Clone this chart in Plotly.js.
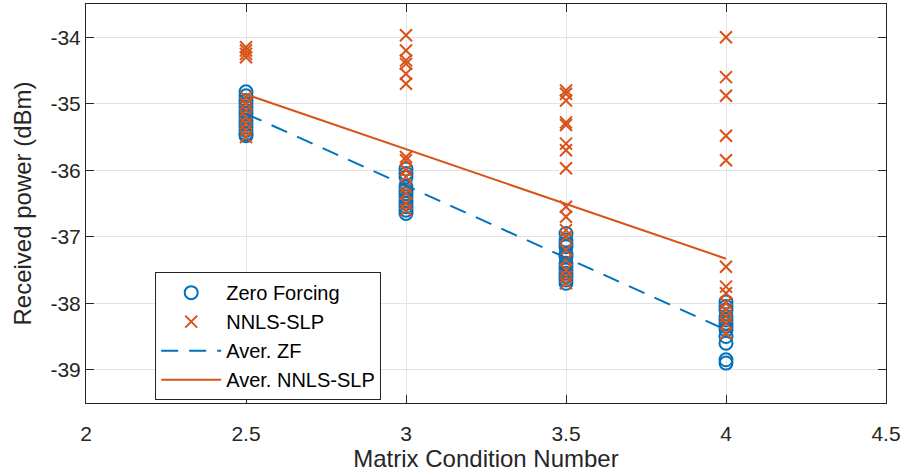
<!DOCTYPE html>
<html><head><meta charset="utf-8">
<script src="https://cdn.plot.ly/plotly-3.0.1.min.js"></script>
<style>body{margin:0;background:#fff}#c{width:902px;height:474px}</style>
</head><body><div id="c"></div>
<script>
const zfX25 = [-34.82,-34.88,-34.95,-35.0,-35.05,-35.1,-35.15,-35.2,-35.25,-35.3,-35.35,-35.4,-35.45,-35.48];
const zfX30 = [-35.98,-36.05,-36.1,-36.25,-36.3,-36.35,-36.4,-36.45,-36.5,-36.55,-36.6,-36.65];
const zfX35 = [-36.95,-37.05,-37.1,-37.15,-37.25,-37.3,-37.4,-37.45,-37.5,-37.55,-37.6,-37.65,-37.7];
const zfX40 = [-37.98,-38.05,-38.1,-38.2,-38.25,-38.3,-38.35,-38.4,-38.5,-38.6,-38.85,-38.9];
const slpX25 = [-34.15,-34.2,-34.25,-34.3,-34.9,-35.0,-35.1,-35.2,-35.3,-35.4,-35.5];
const slpX30 = [-33.97,-34.2,-34.35,-34.4,-34.55,-34.7,-35.8,-35.85,-36.0,-36.1,-36.25,-36.35,-36.5,-36.6];
const slpX35 = [-34.8,-34.85,-34.95,-35.28,-35.32,-35.6,-35.7,-35.97,-36.55,-36.7,-36.9,-37.0,-37.2,-37.35,-37.5,-37.6,-37.7];
const slpX40 = [-34.0,-34.6,-34.88,-35.48,-35.85,-37.45,-37.75,-37.85,-38.0,-38.1,-38.2,-38.3,-38.45];
const condNums = [2.5, 3, 3.5, 4];
const avgZF = [-35.15, -36.23, -37.32, -38.4];
const avgSLP = [-34.86, -35.68, -36.5, -37.33];
const xTicks = [2, 2.5, 3, 3.5, 4, 4.5];
const yTicks = [-39, -38, -37, -36, -35, -34];

const zfGroups = [zfX25, zfX30, zfX35, zfX40];
const slpGroups = [slpX25, slpX30, slpX35, slpX40];
function flat(groups){
  const xs=[], ys=[];
  groups.forEach((g,i)=>g.forEach(v=>{xs.push(condNums[i]); ys.push(v);}));
  return {xs, ys};
}
const zf = flat(zfGroups), slp = flat(slpGroups);
const blue = '#0072BD', orange = '#D95319';
const font = {family:'Liberation Sans, Arial, Helvetica, sans-serif', color:'#262626'};

const traces = [
  {x:zf.xs, y:zf.ys, mode:'markers', type:'scatter', name:'Zero Forcing',
   marker:{symbol:'circle-open', size:13, color:blue, line:{width:2, color:blue}}},
  {x:slp.xs, y:slp.ys, mode:'markers', type:'scatter', name:'NNLS-SLP',
   marker:{symbol:'x-thin-open', size:12, color:orange, line:{width:2, color:orange}}},
  {x:condNums, y:avgZF, mode:'lines', type:'scatter', name:'Aver. ZF',
   line:{color:blue, width:2, dash:'17px,11px'}},
  {x:condNums, y:avgSLP, mode:'lines', type:'scatter', name:'Aver. NNLS-SLP',
   line:{color:orange, width:2}}
];
const axisCommon = {showline:true, linecolor:'#262626', linewidth:1, mirror:'ticks',
  ticks:'inside', ticklen:8, tickcolor:'#262626', showgrid:true, gridcolor:'#e3e3e3',
  zeroline:false, automargin:false, ticklabeloverflow:'allow', tickfont:{...font, size:21}};
const layout = {
  width:902, height:474,
  margin:{l:86, r:16, t:4, b:71},
  paper_bgcolor:'#fff', plot_bgcolor:'#fff',
  font:font,
  showlegend:true,
  xaxis:{...axisCommon, range:[2,4.5], tickvals:xTicks, ticktext:xTicks.map(String),
    ticklabelstandoff:12,
    title:{text:'Matrix Condition Number', font:{...font, size:24}, standoff:5}},
  yaxis:{...axisCommon, range:[-39.5,-33.5], tickvals:yTicks, ticktext:yTicks.map(String),
    ticklabelstandoff:0,
    title:{text:'Received power (dBm)', font:{...font, size:24}, standoff:12}},
  legend:{x:0.0865, y:0.328, xanchor:'left', yanchor:'top', bgcolor:'#fff',
    bordercolor:'#262626', borderwidth:1, font:{...font, size:20, color:'#000'},
    tracegroupgap:0, itemwidth:60, entrywidth:165, entrywidthmode:'pixels'}
};
Plotly.newPlot('c', traces, layout, {staticPlot:true});
</script></body></html>
